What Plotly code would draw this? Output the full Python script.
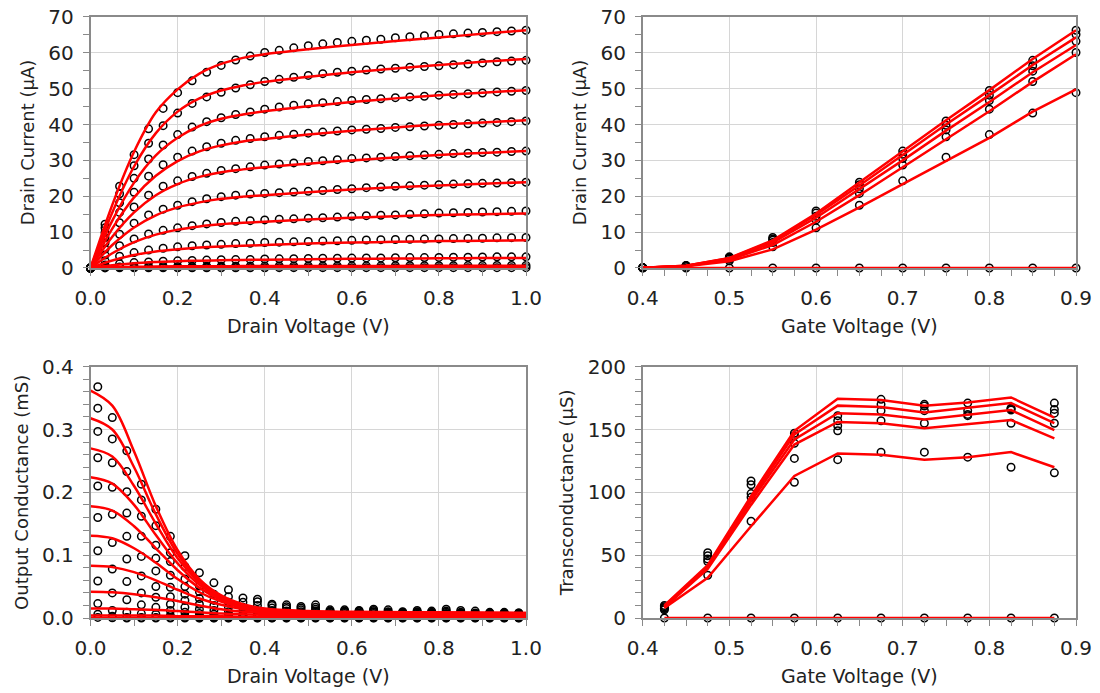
import plotly.graph_objects as go

# ---------------- data ----------------
# Drain-voltage grid for measured I-V points (V)
vd_meas = [0.0, 0.0333, 0.0667, 0.1, 0.1333, 0.1667, 0.2, 0.2333, 0.2667, 0.3, 0.3333,
           0.3667, 0.4, 0.4333, 0.4667, 0.5, 0.5333, 0.5667, 0.6, 0.6333, 0.6667,
           0.7, 0.7333, 0.7667, 0.8, 0.8333, 0.8667, 0.9, 0.9333, 0.9667, 1.0]
# Drain-voltage grid for model I-V curves (V)
vd_model = [0.0, 0.05, 0.1, 0.15, 0.2, 0.25, 0.3, 0.35, 0.4, 0.5, 0.6, 0.7, 0.8, 0.9, 1.0]
# Gate voltages (V)
vg = [0.4, 0.45, 0.5, 0.55, 0.6, 0.65, 0.7, 0.75, 0.8, 0.85, 0.9]

# Measured drain current (uA), one list per gate voltage
id_meas_040 = [0, 0.03, 0.05, 0.06, 0.06, 0.07, 0.07, 0.07, 0.08, 0.08, 0.08, 0.08, 0.08, 0.09, 0.09, 0.09,
               0.09, 0.09, 0.09, 0.1, 0.1, 0.1, 0.1, 0.1, 0.1, 0.1, 0.1, 0.1, 0.1, 0.1, 0.1]
id_meas_045 = [0, 0.2, 0.3, 0.35, 0.4, 0.42, 0.44, 0.46, 0.48, 0.5, 0.5, 0.52, 0.53, 0.54, 0.55, 0.56,
               0.57, 0.58, 0.59, 0.6, 0.6, 0.61, 0.62, 0.63, 0.64, 0.65, 0.66, 0.67, 0.68, 0.69, 0.7]
id_meas_050 = [0, 0.8, 1.2, 1.5, 1.7, 1.9, 2.0, 2.1, 2.2, 2.3, 2.35, 2.4, 2.5, 2.55, 2.6, 2.65,
               2.7, 2.7, 2.75, 2.8, 2.8, 2.85, 2.9, 2.9, 2.95, 3.0, 3.0, 3.05, 3.1, 3.1, 3.1]
id_meas_055 = [0, 2.0, 3.3, 4.3, 5.0, 5.5, 5.9, 6.2, 6.4, 6.6, 6.8, 6.9, 7.1, 7.2, 7.3, 7.4,
               7.5, 7.6, 7.7, 7.8, 7.9, 7.95, 8.0, 8.05, 8.1, 8.2, 8.25, 8.3, 8.4, 8.45, 8.5]
id_meas_060 = [0, 3.6, 6.2, 8.1, 9.5, 10.5, 11.2, 11.8, 12.3, 12.7, 13.0, 13.2, 13.4, 13.6, 13.7, 13.9,
               14.0, 14.2, 14.4, 14.6, 14.7, 14.8, 15.0, 15.1, 15.3, 15.4, 15.5, 15.6, 15.7, 15.8, 15.9]
id_meas_065 = [0, 5.3, 9.4, 12.5, 14.8, 16.4, 17.5, 18.5, 19.3, 19.9, 20.3, 20.6, 20.8, 21.0, 21.2, 21.4,
               21.6, 21.9, 22.1, 22.4, 22.6, 22.8, 22.9, 23.1, 23.2, 23.4, 23.5, 23.6, 23.7, 23.8, 23.9]
id_meas_070 = [0, 7.0, 12.6, 17.0, 20.3, 22.8, 24.3, 25.5, 26.4, 27.2, 27.7, 28.2, 28.7, 29.0, 29.3, 29.7,
               29.9, 30.2, 30.5, 30.7, 30.9, 31.1, 31.3, 31.5, 31.7, 31.9, 32.0, 32.2, 32.3, 32.5, 32.6]
id_meas_075 = [0, 8.5, 15.5, 21.1, 25.6, 28.8, 30.9, 32.6, 33.8, 34.8, 35.6, 36.1, 36.6, 37.0, 37.3, 37.6,
               37.9, 38.2, 38.5, 38.7, 38.9, 39.2, 39.4, 39.6, 39.8, 40.0, 40.2, 40.4, 40.6, 40.8, 41.0]
id_meas_080 = [0, 9.9, 18.2, 25.0, 30.4, 34.3, 37.2, 39.3, 40.8, 41.9, 42.8, 43.5, 44.3, 44.9, 45.4, 45.8,
               46.1, 46.4, 46.7, 47.0, 47.2, 47.5, 47.7, 47.9, 48.2, 48.4, 48.6, 48.8, 49.1, 49.3, 49.5]
id_meas_085 = [0, 11.2, 20.7, 28.5, 34.8, 39.7, 43.2, 45.9, 47.7, 49.0, 50.2, 51.1, 52.0, 52.6, 53.2, 53.7,
               54.2, 54.6, 54.9, 55.2, 55.5, 55.7, 56.0, 56.2, 56.4, 56.7, 56.9, 57.2, 57.5, 57.7, 57.9]
id_meas_090 = [0, 12.2, 22.8, 31.6, 38.8, 44.5, 48.9, 52.2, 54.6, 56.5, 58.0, 59.1, 60.1, 60.7, 61.4, 62.0,
               62.5, 62.9, 63.2, 63.5, 63.8, 64.2, 64.5, 64.8, 65.1, 65.3, 65.5, 65.7, 65.9, 66.1, 66.3]

# Model drain current (uA) on vd_model grid
id_model_040 = [0, 0.03, 0.05, 0.06, 0.07, 0.07, 0.08, 0.08, 0.08, 0.09, 0.09, 0.09, 0.1, 0.1, 0.1]
id_model_045 = [0, 0.2, 0.33, 0.4, 0.45, 0.48, 0.5, 0.52, 0.53, 0.55, 0.57, 0.58, 0.6, 0.61, 0.62]
id_model_050 = [0, 0.75, 1.3, 1.65, 1.9, 2.05, 2.15, 2.25, 2.3, 2.45, 2.55, 2.62, 2.7, 2.75, 2.8]
id_model_055 = [0, 2.1, 3.6, 4.6, 5.2, 5.7, 6.0, 6.2, 6.4, 6.8, 7.1, 7.3, 7.5, 7.6, 7.7]
id_model_060 = [0, 4.1, 7.2, 9.3, 10.7, 11.6, 12.2, 12.6, 12.9, 13.5, 14.0, 14.4, 14.8, 15.0, 15.2]
id_model_065 = [0, 6.4, 11.3, 14.7, 16.9, 18.3, 19.3, 19.9, 20.3, 21.1, 21.9, 22.5, 23.0, 23.5, 23.9]
id_model_070 = [0, 8.7, 15.5, 20.3, 23.4, 25.4, 26.7, 27.5, 28.1, 29.1, 30.0, 30.8, 31.5, 32.1, 32.6]
id_model_075 = [0, 11.0, 19.7, 25.7, 29.8, 32.5, 34.2, 35.3, 36.0, 37.2, 38.3, 39.2, 40.0, 40.6, 41.2]
id_model_080 = [0, 13.2, 23.8, 31.4, 36.3, 39.6, 41.6, 42.8, 43.7, 45.1, 46.3, 47.3, 48.2, 48.9, 49.6]
id_model_085 = [0, 15.5, 28.3, 37.6, 43.6, 47.3, 49.5, 50.9, 51.9, 53.3, 54.6, 55.6, 56.6, 57.5, 58.3]
id_model_090 = [0, 17.6, 32.4, 43.4, 49.8, 54.2, 56.9, 58.6, 59.6, 61.0, 62.2, 63.3, 64.3, 65.3, 66.3]

# Drain voltages shown in the transfer plot and their positions in the grids
vd_transfer = [0.0, 0.2, 0.4, 0.6, 0.8, 1.0]
idx_meas = [0, 6, 12, 18, 24, 30]
idx_model = [0, 4, 8, 10, 12, 14]

# Output conductance (mS), measured at mid-points
vd_mid = [0.0167, 0.05, 0.0833, 0.1167, 0.15, 0.1833, 0.2167, 0.25, 0.2833, 0.3167, 0.35, 0.3833,
          0.4167, 0.45, 0.4833, 0.5167, 0.55, 0.5833, 0.6167, 0.65, 0.6833, 0.7167, 0.75, 0.7833,
          0.8167, 0.85, 0.8833, 0.9167, 0.95, 0.9833]
gds_meas_040 = [0.001, 0.0005, 0, 0, 0, 0, 0, 0, 0, 0, 0, 0, 0, 0, 0, 0, 0, 0, 0, 0, 0, 0, 0, 0, 0, 0, 0, 0, 0, 0]
gds_meas_045 = [0.006, 0.003, 0.001, 0.001, 0.001, 0.001, 0.001, 0.0005, 0.0005, 0.0005, 0.0005, 0.0005,
                0.0005, 0.0005, 0.0005, 0.0005, 0.0005, 0.0005, 0.0005, 0.0005, 0.0005, 0.0005, 0.0005,
                0.0005, 0.0005, 0.0005, 0.0005, 0.0005, 0.0005, 0.0005]
gds_meas_050 = [0.023, 0.012, 0.009, 0.007, 0.006, 0.004, 0.003, 0.002, 0.001, 0.001, 0.001, 0.001,
                0.001, 0.001, 0.001, 0.001, 0.001, 0.001, 0.001, 0.001, 0.001, 0.001, 0.001, 0.001,
                0.001, 0.001, 0.001, 0.001, 0.001, 0.001]
gds_meas_055 = [0.059, 0.040, 0.029, 0.021, 0.017, 0.012, 0.009, 0.003, 0.002, 0.002, 0.001, 0.002,
                0.003, 0.002, 0.002, 0.003, 0.002, 0.002, 0.002, 0.002, 0.002, 0.002, 0.002, 0.002,
                0.002, 0.002, 0.001, 0.002, 0.001, 0.001]
gds_meas_060 = [0.107, 0.078, 0.058, 0.040, 0.033, 0.022, 0.017, 0.007, 0.003, 0.003, 0.002, 0.004,
                0.005, 0.004, 0.004, 0.005, 0.004, 0.004, 0.004, 0.004, 0.003, 0.003, 0.004, 0.003,
                0.003, 0.003, 0.003, 0.003, 0.003, 0.003]
gds_meas_065 = [0.160, 0.120, 0.094, 0.067, 0.050, 0.034, 0.028, 0.014, 0.006, 0.005, 0.003, 0.005,
                0.006, 0.006, 0.006, 0.007, 0.006, 0.005, 0.006, 0.005, 0.005, 0.005, 0.005, 0.005,
                0.004, 0.004, 0.004, 0.004, 0.004, 0.004]
gds_meas_070 = [0.210, 0.165, 0.130, 0.098, 0.075, 0.049, 0.038, 0.022, 0.012, 0.010, 0.005, 0.008,
                0.009, 0.008, 0.008, 0.009, 0.007, 0.007, 0.007, 0.007, 0.006, 0.006, 0.006, 0.006,
                0.006, 0.006, 0.005, 0.005, 0.005, 0.005]
gds_meas_075 = [0.255, 0.208, 0.167, 0.130, 0.095, 0.068, 0.050, 0.031, 0.020, 0.017, 0.011, 0.012,
                0.012, 0.011, 0.010, 0.011, 0.009, 0.009, 0.008, 0.009, 0.008, 0.007, 0.008, 0.007,
                0.007, 0.007, 0.006, 0.006, 0.006, 0.006]
gds_meas_080 = [0.297, 0.247, 0.201, 0.162, 0.116, 0.090, 0.062, 0.042, 0.028, 0.025, 0.017, 0.020,
                0.016, 0.015, 0.013, 0.014, 0.010, 0.010, 0.010, 0.010, 0.009, 0.008, 0.009, 0.008,
                0.009, 0.008, 0.007, 0.007, 0.007, 0.007]
gds_meas_085 = [0.334, 0.285, 0.233, 0.188, 0.147, 0.104, 0.082, 0.051, 0.038, 0.034, 0.025, 0.026,
                0.020, 0.018, 0.016, 0.017, 0.011, 0.011, 0.011, 0.012, 0.010, 0.009, 0.010, 0.009,
                0.011, 0.009, 0.008, 0.008, 0.008, 0.008]
gds_meas_090 = [0.368, 0.319, 0.266, 0.213, 0.173, 0.130, 0.099, 0.072, 0.056, 0.045, 0.032, 0.030,
                0.022, 0.021, 0.0185, 0.021, 0.013, 0.013, 0.012, 0.014, 0.013, 0.010, 0.012, 0.011,
                0.014, 0.012, 0.011, 0.009, 0.009, 0.008]

# Model output conductance (mS)
vd_gmodel = [0.0, 0.05, 0.1, 0.15, 0.2, 0.25, 0.3, 0.35, 0.4, 0.5, 0.6, 0.8, 1.0]
gds_model_040 = [0.0005, 0.0005, 0.0005, 0.0005, 0.0005, 0.0005, 0.0005, 0.0005, 0.0005, 0.0005, 0.0005, 0.0005, 0.0005]
gds_model_045 = [0.004, 0.004, 0.004, 0.004, 0.003, 0.003, 0.003, 0.002, 0.002, 0.002, 0.002, 0.002, 0.002]
gds_model_050 = [0.015, 0.015, 0.014, 0.013, 0.011, 0.009, 0.007, 0.006, 0.005, 0.004, 0.004, 0.003, 0.003]
gds_model_055 = [0.042, 0.041, 0.038, 0.033, 0.027, 0.020, 0.014, 0.010, 0.008, 0.006, 0.005, 0.004, 0.004]
gds_model_060 = [0.083, 0.081, 0.073, 0.060, 0.045, 0.031, 0.021, 0.014, 0.010, 0.007, 0.006, 0.005, 0.005]
gds_model_065 = [0.131, 0.127, 0.111, 0.088, 0.062, 0.041, 0.026, 0.016, 0.011, 0.008, 0.007, 0.006, 0.006]
gds_model_070 = [0.178, 0.171, 0.146, 0.111, 0.076, 0.048, 0.029, 0.018, 0.012, 0.009, 0.008, 0.007, 0.006]
gds_model_075 = [0.224, 0.214, 0.180, 0.132, 0.087, 0.053, 0.031, 0.019, 0.012, 0.009, 0.008, 0.007, 0.007]
gds_model_080 = [0.270, 0.257, 0.210, 0.150, 0.095, 0.057, 0.033, 0.020, 0.013, 0.010, 0.009, 0.008, 0.007]
gds_model_085 = [0.318, 0.300, 0.240, 0.165, 0.102, 0.060, 0.035, 0.021, 0.014, 0.010, 0.009, 0.008, 0.008]
gds_model_090 = [0.362, 0.338, 0.265, 0.178, 0.108, 0.062, 0.036, 0.022, 0.015, 0.011, 0.010, 0.009, 0.008]

# Transconductance (uS) at gate-voltage mid-points, for Vd = 0, 0.2, 0.4, 0.6, 0.8, 1.0
vg_mid = [0.425, 0.475, 0.525, 0.575, 0.625, 0.675, 0.725, 0.775, 0.825, 0.875]
gm_meas_vd00 = [0, 0, 0, 0, 0, 0, 0, 0, 0, 0]
gm_meas_vd02 = [6.5, 34, 77, 108, 126, 132, 132, 128, 120, 115.5]
gm_meas_vd04 = [7.5, 45, 96, 127, 149, 157, 155, 161, 155, 155]
gm_meas_vd06 = [8, 47, 99, 139, 153, 165, 165, 162, 165.5, 163]
gm_meas_vd08 = [9, 49.5, 106, 145, 157, 170, 168.7, 165, 166.5, 166]
gm_meas_vd10 = [10, 52, 109, 147, 161, 174, 170, 171, 167, 171]
gm_model_vd00 = [0, 0, 0, 0, 0, 0, 0, 0, 0, 0]
gm_model_vd02 = [8, 32, 73, 113, 131, 130, 126, 128, 132, 120]
gm_model_vd04 = [8.5, 39, 90, 138, 156, 155, 151, 154, 157.5, 143]
gm_model_vd06 = [9, 40, 93, 142, 163, 162, 158, 161.5, 165.5, 149.5]
gm_model_vd08 = [9.5, 41, 95, 146, 169, 168, 163.5, 167, 171, 155]
gm_model_vd10 = [10, 42, 97, 149, 174.5, 173.5, 169, 171.5, 175.5, 159.5]

id_meas = [id_meas_040, id_meas_045, id_meas_050, id_meas_055, id_meas_060, id_meas_065,
           id_meas_070, id_meas_075, id_meas_080, id_meas_085, id_meas_090]
id_model = [id_model_040, id_model_045, id_model_050, id_model_055, id_model_060, id_model_065,
            id_model_070, id_model_075, id_model_080, id_model_085, id_model_090]
gds_meas = [gds_meas_040, gds_meas_045, gds_meas_050, gds_meas_055, gds_meas_060, gds_meas_065,
            gds_meas_070, gds_meas_075, gds_meas_080, gds_meas_085, gds_meas_090]
gds_model = [gds_model_040, gds_model_045, gds_model_050, gds_model_055, gds_model_060, gds_model_065,
             gds_model_070, gds_model_075, gds_model_080, gds_model_085, gds_model_090]
gm_meas = [gm_meas_vd00, gm_meas_vd02, gm_meas_vd04, gm_meas_vd06, gm_meas_vd08, gm_meas_vd10]
gm_model = [gm_model_vd00, gm_model_vd02, gm_model_vd04, gm_model_vd06, gm_model_vd08, gm_model_vd10]

# ---------------- styling ----------------
RED = "#ff0000"
LINE_W = 2.5
MARK = dict(symbol="circle-open", size=7.5, color="black", line=dict(width=1.5, color="black"))
FONT = "DejaVu Sans"
TXT = "#222222"

fig = go.Figure()

def add_meas(x, y, ax):
    fig.add_trace(go.Scatter(x=x, y=y, mode="markers", marker=MARK, cliponaxis=False,
                             xaxis="x" + ax, yaxis="y" + ax, showlegend=False, hoverinfo="skip"))

def add_model(x, y, ax, shape="spline"):
    fig.add_trace(go.Scatter(x=x, y=y, mode="lines", line=dict(color=RED, width=LINE_W, shape=shape),
                             cliponaxis=False, xaxis="x" + ax, yaxis="y" + ax,
                             showlegend=False, hoverinfo="skip"))

# markers first, model lines on top
for ys in id_meas:
    add_meas(vd_meas, ys, "")
for k in range(len(vd_transfer)):
    add_meas(vg, [ys[idx_meas[k]] for ys in id_meas], "2")
for ys in gds_meas:
    add_meas(vd_mid, ys, "3")
for ys in gm_meas:
    add_meas(vg_mid, ys, "4")

for ys in id_model:
    add_model(vd_model, ys, "")
for k in range(len(vd_transfer)):
    add_model(vg, [ys[idx_model[k]] for ys in id_model], "2", shape="linear")
for ys in gds_model:
    add_model(vd_gmodel, ys, "3")
for ys in gm_model:
    add_model(vg_mid, ys, "4", shape="linear")

AX = "#8a8a8a"

def axis(domain, rng, dtick, minor_dtick, title, anchor, fmt=None, vertical=False):
    d = dict(domain=domain, range=rng, dtick=dtick, tick0=rng[0] if not vertical else 0,
             showline=True, linecolor=AX, linewidth=1.5, mirror=True,
             ticks="outside", ticklen=6, tickwidth=1, tickcolor=AX,
             showgrid=True, gridcolor="#d6d6d6", gridwidth=1, zeroline=False,
             tickfont=dict(family=FONT, size=20, color=TXT),
             ticklabelstandoff=5,
             minor=dict(dtick=minor_dtick, ticks="outside", ticklen=6, tickcolor=AX, tickwidth=1,
                        showgrid=False),
             title=dict(text=title, font=dict(family=FONT, size=18 if vertical else 19, color=TXT),
                        standoff=11 if not vertical else 9),
             anchor=anchor, automargin=False, fixedrange=True)
    if fmt:
        d["tickformat"] = fmt
    return d

X1 = [0.0823, 0.4782]
X2 = [0.5843, 0.9782]
YT = [0.6133, 0.9755]
YB = [0.1082, 0.4709]

fig.update_layout(
    width=1100, height=693,
    margin=dict(l=0, r=0, t=0, b=0),
    paper_bgcolor="white", plot_bgcolor="white",
    showlegend=False,
    xaxis=axis(X1, [0, 1], 0.2, 0.1, "Drain Voltage (V)", "y", ".1f"),
    yaxis=axis(YT, [0, 70], 10, 5, "Drain Current (µA)", "x", vertical=True),
    xaxis2=axis(X2, [0.4, 0.9], 0.1, 0.025, "Gate Voltage (V)", "y2", ".1f"),
    yaxis2=axis(YT, [0, 70], 10, 5, "Drain Current (µA)", "x2", vertical=True),
    xaxis3=axis(X1, [0, 1], 0.2, 0.1, "Drain Voltage (V)", "y3", ".1f"),
    yaxis3=axis(YB, [0, 0.4], 0.1, 0.02, "Output Conductance (mS)", "x3", ".1f", vertical=True),
    xaxis4=axis(X2, [0.4, 0.9], 0.1, 0.025, "Gate Voltage (V)", "y4", ".1f"),
    yaxis4=axis(YB, [0, 200], 50, 10, "Transconductance (µS)", "x4", vertical=True),
)

fig.write_html("out.html")
